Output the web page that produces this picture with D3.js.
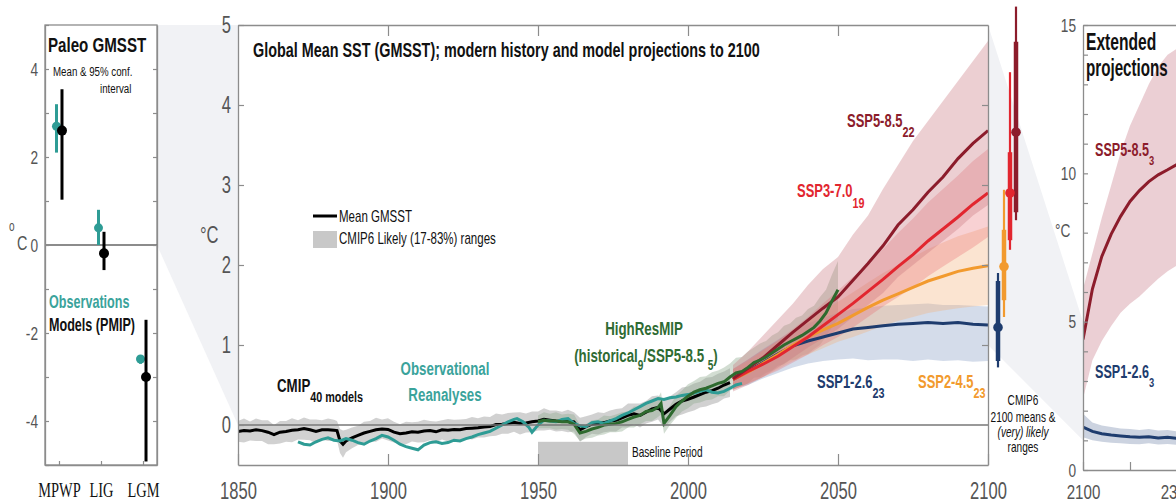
<!DOCTYPE html>
<html>
<head>
<meta charset="utf-8">
<script src="https://cdn.jsdelivr.net/npm/d3@7/dist/d3.min.js"></script>
<style>
  html, body { margin: 0; padding: 0; background: #fff; }
  svg { display: block; }
</style>
</head>
<body>
<svg id="chart" width="1176" height="504"></svg>
<script>
// ---- paleo panel ----
const paleoCats = ["MPWP", "LIG", "LGM"];
const paleoObsMean = [2.7, 0.39, -2.59];
const paleoObsLo = [2.1, 0.0, -2.7];
const paleoObsHi = [3.2, 0.8, -2.5];
const paleoModMean = [2.6, -0.19, -3.0];
const paleoModLo = [1.03, -0.57, -4.92];
const paleoModHi = [3.54, 0.3, -1.7];

// ---- CMIP historical (40 models) ----
const cmipYears = [1850,1852,1854,1856,1858,1860,1862,1864,1866,1868,1870,1872,1874,1876,1878,1880,1882,
  1883,1884,1885,
  1886,1888,1890,1892,1894,1896,1898,1900,1902,1904,
  1906,1908,1910,1912,1914,1916,1918,1920,1922,1924,
  1926,1928,1930,1932,1934,1936,1938,1940,1942,1944,
  1946,1948,1950,1952,1954,1956,1958,1960,1962,1964,
  1966,1968,1970,1972,1974,1976,1978,1980,1982,1984,
  1986,1988,1990,1992,1994,1996,1998,2000,2002,2004,
  2006,2008,2010,2012,2014];
const cmipMean = [-0.08,-0.07,-0.075,-0.06,-0.07,-0.09,-0.12,-0.09,-0.08,-0.065,-0.06,-0.045,-0.06,-0.08,-0.06,-0.06,-0.065,
  -0.07,-0.2,-0.24,
  -0.2,-0.16,-0.13,-0.1,-0.08,-0.06,-0.05,-0.055,-0.09,-0.11,
  -0.1,-0.085,-0.09,-0.075,-0.07,-0.085,-0.06,-0.065,-0.055,-0.06,
  -0.045,-0.04,-0.035,-0.025,-0.02,0.005,0.01,0.02,0.035,0.02,
  0.025,0.04,0.05,0.07,0.06,0.05,0.045,0.05,0.04,-0.06,
  -0.02,0.01,0.02,0.03,0.05,0.06,0.09,0.12,0.14,0.12,
  0.16,0.2,0.22,0.14,0.2,0.26,0.3,0.32,0.35,0.38,
  0.41,0.43,0.46,0.5,0.53];
const cmipSpread = [0.13,0.15,0.12,0.14,0.13,0.15,0.12,0.14,0.13,0.15,0.12,0.14,0.13,0.15,0.12,0.14,0.13,
  0.12,0.15,0.17,
  0.14,0.13,0.12,0.14,0.13,0.15,0.12,0.14,0.13,0.12,
  0.14,0.12,0.13,0.14,0.12,0.13,0.12,0.14,0.12,0.13,
  0.12,0.14,0.12,0.13,0.12,0.14,0.12,0.13,0.12,0.14,
  0.12,0.13,0.12,0.14,0.12,0.13,0.12,0.14,0.12,0.15,
  0.13,0.12,0.14,0.12,0.13,0.14,0.12,0.15,0.13,0.15,
  0.14,0.16,0.15,0.17,0.16,0.15,0.17,0.16,0.17,0.16,
  0.18,0.17,0.18,0.17,0.18];

// ---- observational reanalyses ----
const obsYears = [1870,1872,1874,1876,1878,1880,1882,1884,1886,1888,
  1890,1892,1894,1896,1898,1900,1902,1904,1906,1908,
  1910,1912,1914,1916,1918,1920,1922,1924,1926,1928,
  1930,1932,1934,1936,1938,1940,1942,1943,1945,1947,
  1948,1950,1952,1954,1956,1958,1960,1962,1964,1966,
  1968,1970,1972,1974,1976,1978,1980,1982,1984,1986,
  1988,1990,1992,1994,1996,1998,2000,2002,2004,2006,
  2008,2010,2012,2014,2016,2018];
const obsMean = [-0.21,-0.24,-0.25,-0.21,-0.18,-0.16,-0.19,-0.2,-0.17,-0.19,
  -0.22,-0.24,-0.2,-0.17,-0.13,-0.15,-0.19,-0.24,-0.27,-0.29,
  -0.31,-0.25,-0.22,-0.21,-0.23,-0.22,-0.19,-0.2,-0.17,-0.15,
  -0.12,-0.1,-0.08,-0.04,0.0,0.04,0.07,0.08,0.04,-0.03,
  -0.09,0.0,0.06,0.05,0.04,0.07,0.08,0.02,-0.01,-0.02,
  0.03,0.04,0.02,0.05,0.08,0.12,0.15,0.19,0.23,0.27,
  0.3,0.33,0.32,0.34,0.35,0.37,0.38,0.4,0.42,0.44,
  0.41,0.4,0.42,0.46,0.5,0.52];

// ---- HighResMIP (historical / SSP5-8.5) ----
const hrYears = [1950,1952,1954,1956,1958,1960,1962,1964,1966,1968,
  1970,1972,1974,1976,1978,1980,1982,1984,1986,1988,
  1990,1991,1992,
  1994,1996,1998,2000,2002,2004,2006,
  2008,2010,2012,2014,2016,2018,2020,2022,2024,2026,
  2028,2030,2032,2034,2036,2038,2040,2042,2044,2046,
  2048,2050];
const hrMean = [0.04,0.06,0.05,0.05,0.04,0.04,0.01,-0.1,-0.08,-0.05,
  -0.03,0.0,0.01,0.02,0.04,0.07,0.1,0.12,0.17,0.18,
  0.22,0.27,0.02,
  0.12,0.23,0.3,0.36,0.41,0.44,0.46,
  0.49,0.52,0.54,0.6,0.65,0.67,0.72,0.78,0.81,0.85,
  0.9,0.95,1.0,1.04,1.08,1.12,1.17,1.22,1.3,1.4,
  1.55,1.69];
const hrSpread = [0.08,0.1,0.09,0.11,0.09,0.1,0.12,0.1,0.09,0.11,
  0.1,0.12,0.1,0.11,0.12,0.1,0.13,0.11,0.12,0.13,
  0.12,0.14,0.13,
  0.12,0.14,0.13,0.15,0.14,0.16,0.15,
  0.17,0.16,0.18,0.17,0.19,0.18,0.2,0.19,0.21,0.2,
  0.22,0.21,0.24,0.23,0.26,0.25,0.28,0.27,0.3,0.29,
  0.33,0.36];

// ---- CMIP6 scenario projections ----
const sspYears = [2015,2020,2025,2030,2035,2040,2045,2050,2055,2060,2065,2070,2075,2080,2085,2090,2095,2100];
const ssp126 = [0.57,0.67,0.78,0.89,0.99,1.05,1.1,1.15,1.2,1.22,1.24,1.26,1.27,1.28,1.27,1.28,1.26,1.25];
const ssp126Lo = [0.45,0.5,0.58,0.65,0.72,0.77,0.8,0.82,0.83,0.81,0.82,0.82,0.8,0.82,0.8,0.81,0.79,0.8];
const ssp126Hi = [0.7,0.82,0.95,1.07,1.18,1.27,1.34,1.4,1.45,1.47,1.49,1.5,1.51,1.52,1.5,1.5,1.49,1.48];
const ssp245 = [0.57,0.66,0.77,0.88,1.0,1.1,1.19,1.27,1.37,1.47,1.56,1.64,1.72,1.8,1.86,1.92,1.96,1.99];
const ssp245Lo = [0.44,0.52,0.6,0.7,0.8,0.88,0.96,1.04,1.1,1.17,1.24,1.3,1.35,1.4,1.43,1.46,1.48,1.5];
const ssp245Hi = [0.7,0.8,0.93,1.05,1.18,1.3,1.42,1.54,1.66,1.78,1.9,2.0,2.1,2.2,2.28,2.36,2.42,2.48];
const ssp370 = [0.57,0.67,0.76,0.86,0.98,1.1,1.24,1.38,1.52,1.67,1.82,1.98,2.13,2.3,2.45,2.6,2.76,2.9];
const ssp370Lo = [0.44,0.52,0.6,0.68,0.78,0.88,1.0,1.1,1.22,1.35,1.48,1.6,1.72,1.86,1.98,2.1,2.22,2.35];
const ssp370Hi = [0.7,0.82,0.94,1.06,1.2,1.35,1.52,1.68,1.85,2.02,2.2,2.4,2.58,2.78,2.95,3.12,3.3,3.45];
const ssp585 = [0.58,0.71,0.84,1.0,1.16,1.31,1.46,1.6,1.81,2.02,2.24,2.5,2.69,2.91,3.1,3.33,3.52,3.68];
const ssp585Lo = [0.42,0.5,0.6,0.72,0.84,0.97,1.08,1.2,1.35,1.5,1.65,1.85,2.0,2.15,2.3,2.45,2.62,2.75];
const ssp585Hi = [0.75,0.92,1.12,1.32,1.52,1.75,1.95,2.1,2.38,2.62,2.95,3.25,3.55,3.8,4.05,4.3,4.55,4.8];

// 2100 means, likely and very likely ranges (SSP1-2.6, SSP2-4.5, SSP3-7.0, SSP5-8.5)
const end2100Mean = [1.22, 1.98, 2.9, 3.66];
const end2100LikelyLo = [0.8, 1.56, 2.31, 2.66];
const end2100LikelyHi = [1.8, 2.44, 3.41, 4.79];
const end2100VeryLo = [0.72, 1.35, 2.19, 2.56];
const end2100VeryHi = [1.9, 2.94, 4.41, 5.23];

// ---- extended projections to 2300 ----
const extYears = [2100,2120,2140,2160,2180,2200,2220,2240,2260,2280,2300];
const ext585 = [4.4,6.1,7.2,7.95,8.55,9.05,9.42,9.72,9.95,10.12,10.3];
const ext585Lo = [2.4,3.7,4.35,4.85,5.3,5.6,5.85,6.15,6.45,6.7,6.9];
const ext585Hi = [6.1,7.3,8.5,9.6,10.7,11.6,12.3,13.0,13.6,14.0,14.2];
const ext126 = [1.45,1.3,1.22,1.18,1.15,1.12,1.1,1.12,1.08,1.1,1.07];
const ext126Lo = [1.1,1.0,0.95,0.92,0.9,0.88,0.87,0.9,0.86,0.88,0.85];
const ext126Hi = [1.9,1.6,1.5,1.45,1.4,1.38,1.35,1.38,1.33,1.35,1.3];

// ------------------------------------------------------------------
const FONT = "'Liberation Sans', Arial, sans-serif";
const SX = 0.72; // the figure's type is horizontally condensed
const AXIS = "#8c8c8c", TICKTXT = "#555";
const C = {
  obs: "#2e9c95", hr: "#2d6a2e", s126: "#1e3c6e", s245: "#f29a2e",
  s370: "#e2262f", s585: "#8c1c2b"
};

const svg = d3.select("#chart");

function txt(g, x, y, s, o = {}) {
  return g.append("text")
    .attr("transform", `translate(${x},${y}) scale(${o.sx || SX},1)`)
    .attr("font-family", o.font || FONT)
    .attr("font-size", o.size || 16)
    .attr("font-weight", o.bold ? "bold" : "normal")
    .attr("font-style", o.italic ? "italic" : "normal")
    .attr("fill", o.color || "#111")
    .attr("text-anchor", o.anchor || "start")
    .text(s);
}

// text with subscripts: parts = [[string, isSub], ...]
function subTxt(g, x, y, parts, o = {}) {
  const t = g.append("text")
    .attr("transform", `translate(${x},${y}) scale(${o.sx || SX},1)`)
    .attr("font-family", FONT)
    .attr("font-size", o.size || 17)
    .attr("font-weight", o.bold ? "bold" : "normal")
    .attr("fill", o.color || "#111")
    .attr("text-anchor", o.anchor || "start");
  const sh = o.shift || 9;
  let down = false;
  parts.forEach(([s, sub]) => {
    const ts = t.append("tspan").text(s);
    if (sub && !down) { ts.attr("dy", sh).attr("font-size", o.subSize || 14); down = true; }
    else if (sub) { ts.attr("font-size", o.subSize || 14); }
    else if (down) { ts.attr("dy", -sh); down = false; }
  });
  return t;
}

function styleAxis(g, size, color, font) {
  g.attr("font-family", font || FONT).attr("font-size", size);
  g.selectAll(".domain").attr("stroke", AXIS).attr("stroke-width", 1.3);
  g.selectAll(".tick line").attr("stroke", AXIS).attr("stroke-width", 1.2);
  g.selectAll("text").attr("fill", color || TICKTXT).each(function () {
    const t = d3.select(this);
    const x = +t.attr("x") || 0;
    t.attr("x", x / SX).attr("transform", `scale(${SX},1)`);
  });
}

// ---------------- scales ----------------
const xP = d3.scalePoint().domain(paleoCats).range([45, 157]).padding(0.333);
const yP = d3.scaleLinear().domain([-5, 5]).range([465, 25]);
const xM = d3.scaleLinear().domain([1850, 2100]).range([238, 988]);
const yM = d3.scaleLinear().domain([-0.5, 5]).range([465, 25]);
const xE = d3.scaleLinear().domain([2100, 2300]).range([1083, 1177]);
const yE = d3.scaleLinear().domain([0, 15]).range([470, 25]);

// ---------------- zoom wedges ----------------
const wedge = "#f1f2f5";
svg.append("polygon")
  .attr("points", [[xP.range()[1], yM(5)], [xM(1850), yM(5)], [xM(1850), yM(0)], [xP.range()[1], yP(0)]].join(" "))
  .attr("fill", wedge);
svg.append("polygon")
  .attr("points", [[xM(2100), yM(5)], [xE(2100), yE(5)], [xE(2100), yE(1)], [xM(2100), yM(1)]].join(" "))
  .attr("fill", wedge);

// ================= PALEO PANEL =================
const pg = svg.append("g");
pg.append("rect").attr("x", 45).attr("y", 25).attr("width", 112).attr("height", 440)
  .attr("fill", "#fff").attr("stroke", AXIS).attr("stroke-width", 1.3);
pg.append("line").attr("x1", 45).attr("x2", 157).attr("y1", yP(0)).attr("y2", yP(0))
  .attr("stroke", "#666").attr("stroke-width", 1.4);

const pLeft = pg.append("g").attr("transform", "translate(45,0)")
  .call(d3.axisLeft(yP).tickValues(d3.range(-5, 6)).tickSizeInner(-4).tickSizeOuter(0).tickPadding(7)
    .tickFormat(d => (d % 2 === 0 && Math.abs(d) < 5) ? String(d) : ""));
styleAxis(pLeft, 19);
const pRight = pg.append("g").attr("transform", "translate(157,0)")
  .call(d3.axisRight(yP).tickValues(d3.range(-4, 5)).tickSizeInner(-4).tickSizeOuter(0).tickFormat(""));
styleAxis(pRight, 10);
const pBottom = pg.append("g").attr("transform", "translate(0,465)")
  .call(d3.axisBottom(xP).tickSizeInner(-4).tickSizeOuter(0).tickPadding(18));
styleAxis(pBottom, 20, "#111", "'Liberation Serif', 'Times New Roman', serif");

const paleoRows = paleoCats.map((c, i) => ({
  c, om: paleoObsMean[i], ol: paleoObsLo[i], oh: paleoObsHi[i],
  mm: paleoModMean[i], ml: paleoModLo[i], mh: paleoModHi[i]
}));
pg.selectAll(".obsbar").data(paleoRows).join("line")
  .attr("x1", d => xP(d.c) - 2.5).attr("x2", d => xP(d.c) - 2.5)
  .attr("y1", d => yP(d.ol)).attr("y2", d => yP(d.oh))
  .attr("stroke", C.obs).attr("stroke-width", 3);
pg.selectAll(".obsdot").data(paleoRows).join("circle")
  .attr("cx", d => xP(d.c) - 2.5).attr("cy", d => yP(d.om)).attr("r", 4.5).attr("fill", C.obs);
pg.selectAll(".modbar").data(paleoRows).join("line")
  .attr("x1", d => xP(d.c) + 3).attr("x2", d => xP(d.c) + 3)
  .attr("y1", d => yP(d.ml)).attr("y2", d => yP(d.mh))
  .attr("stroke", "#000").attr("stroke-width", 3);
pg.selectAll(".moddot").data(paleoRows).join("circle")
  .attr("cx", d => xP(d.c) + 3).attr("cy", d => yP(d.mm)).attr("r", 5).attr("fill", "#000");

txt(pg, 48, 52, "Paleo GMSST", { size: 21, bold: true });
txt(pg, 53, 76, "Mean & 95% conf.", { size: 13.5 });
txt(pg, 100, 93, "interval", { size: 13.5 });
txt(pg, 49, 308, "Observations", { size: 17.5, bold: true, color: "#3aa39b" });
txt(pg, 49, 331, "Models (PMIP)", { size: 17.5, bold: true });
txt(pg, 9, 231, "o", { size: 14, color: TICKTXT });
txt(pg, 17, 250, "C", { size: 20, color: TICKTXT });

// ================= MAIN PANEL =================
const mg = svg.append("g");
mg.append("rect").attr("x", 238).attr("y", 25).attr("width", 750).attr("height", 440).attr("fill", "#fff");
mg.append("clipPath").attr("id", "clipM").append("rect")
  .attr("x", 238).attr("y", 25).attr("width", 750).attr("height", 440);

// baseline period box (1950-1980)
mg.append("rect").attr("x", xM(1950)).attr("y", yM(-0.21))
  .attr("width", xM(1980) - xM(1950)).attr("height", yM(-0.5) - yM(-0.21))
  .attr("fill", "#c8c8c8");
txt(mg, 632, 457, "Baseline Period", { size: 14 });

const plot = mg.append("g").attr("clip-path", "url(#clipM)");

const bandM = (years, lo, hi) => d3.area()
  .x((d, i) => xM(years[i])).y0((d, i) => yM(lo[i])).y1((d, i) => yM(hi[i]))(years);
const lineM = (years, vals) => d3.line()
  .x((d, i) => xM(years[i])).y((d, i) => yM(vals[i]))(years);

// bands
plot.append("path").attr("d", bandM(cmipYears, cmipMean.map((v, i) => v - cmipSpread[i]), cmipMean.map((v, i) => v + cmipSpread[i])))
  .attr("fill", "#c9c9c9").attr("opacity", 0.85);
plot.append("path").attr("d", bandM(hrYears, hrMean.map((v, i) => v - hrSpread[i]), hrMean.map((v, i) => v + hrSpread[i])))
  .attr("fill", "#8fa98f").attr("opacity", 0.4);
plot.append("path").attr("d", bandM(sspYears, ssp126Lo, ssp126Hi)).attr("fill", "#8da3c7").attr("opacity", 0.38);
plot.append("path").attr("d", bandM(sspYears, ssp245Lo, ssp245Hi)).attr("fill", "#f4b37a").attr("opacity", 0.35);
plot.append("path").attr("d", bandM(sspYears, ssp370Lo, ssp370Hi)).attr("fill", "#e8666c").attr("opacity", 0.3);
plot.append("path").attr("d", bandM(sspYears, ssp585Lo, ssp585Hi)).attr("fill", "#c9767f").attr("opacity", 0.35);

// zero line
mg.append("line").attr("x1", 238).attr("x2", 988).attr("y1", yM(0)).attr("y2", yM(0))
  .attr("stroke", "#777").attr("stroke-width", 1.3);

// lines
const lw = 3;
plot.append("path").attr("d", lineM(cmipYears, cmipMean)).attr("fill", "none").attr("stroke", "#000").attr("stroke-width", lw);
plot.append("path").attr("d", lineM(obsYears, obsMean)).attr("fill", "none").attr("stroke", C.obs).attr("stroke-width", lw);
plot.append("path").attr("d", lineM(sspYears, ssp126)).attr("fill", "none").attr("stroke", C.s126).attr("stroke-width", lw);
plot.append("path").attr("d", lineM(sspYears, ssp245)).attr("fill", "none").attr("stroke", C.s245).attr("stroke-width", lw);
plot.append("path").attr("d", lineM(sspYears, ssp370)).attr("fill", "none").attr("stroke", C.s370).attr("stroke-width", lw);
plot.append("path").attr("d", lineM(sspYears, ssp585)).attr("fill", "none").attr("stroke", C.s585).attr("stroke-width", lw);
plot.append("path").attr("d", lineM(hrYears, hrMean)).attr("fill", "none").attr("stroke", C.hr).attr("stroke-width", lw);

// axes
const mLeft = mg.append("g").attr("transform", "translate(238,0)")
  .call(d3.axisLeft(yM).tickValues(d3.range(0, 6)).tickSizeInner(-6).tickSizeOuter(0).tickPadding(7)
    .tickFormat(d3.format("d")));
styleAxis(mLeft, 23);
const mRight = mg.append("g").attr("transform", "translate(988,0)")
  .call(d3.axisRight(yM).tickValues([1, 2, 3, 4]).tickSizeInner(-6).tickSizeOuter(0).tickFormat(""));
styleAxis(mRight, 10);
const mTop = mg.append("g").attr("transform", "translate(0,25)")
  .call(d3.axisTop(xM).tickValues([1900, 1950, 2000, 2050]).tickSizeInner(-11).tickSizeOuter(0).tickFormat(""));
styleAxis(mTop, 10);
const mBottom = mg.append("g").attr("transform", "translate(0,465)")
  .call(d3.axisBottom(xM).tickValues(d3.range(1850, 2101, 50)).tickSizeInner(-11).tickSizeOuter(0).tickPadding(18).tickFormat(d3.format("d")));
styleAxis(mBottom, 23);
txt(mg, 200, 243, "°C", { size: 23, color: TICKTXT });

// title + legend
txt(mg, 253, 57, "Global Mean SST (GMSST); modern history and model projections to 2100", { size: 20, bold: true });
mg.append("line").attr("x1", 313).attr("x2", 337).attr("y1", 216).attr("y2", 216).attr("stroke", "#000").attr("stroke-width", 3);
txt(mg, 339, 222, "Mean GMSST", { size: 16 });
mg.append("rect").attr("x", 313).attr("y", 231).attr("width", 24).attr("height", 17).attr("fill", "#c8c8c8");
txt(mg, 339, 244, "CMIP6 Likely (17-83%) ranges", { size: 16 });

// series labels
subTxt(mg, 277, 392, [["CMIP", false], ["40 models", true]], { size: 18.5, subSize: 15, bold: true, shift: 10, color: "#111" });
txt(mg, 445, 375, "Observational", { size: 18.5, bold: true, color: "#3aa39b", anchor: "middle" });
txt(mg, 445, 401, "Reanalyses", { size: 18.5, bold: true, color: "#3aa39b", anchor: "middle" });
txt(mg, 644, 335, "HighResMIP", { size: 18.5, bold: true, color: "#2f6b33", anchor: "middle" });
subTxt(mg, 646, 362, [["(historical", false], ["9", true], ["/SSP5-8.5 ", false], ["5", true], [")", false]],
  { size: 18.5, subSize: 14, bold: true, shift: 8, color: "#2f6b33", anchor: "middle" });
subTxt(mg, 847, 127, [["SSP5-8.5", false], ["22", true]], { size: 18, subSize: 15, bold: true, shift: 10, color: C.s585 });
subTxt(mg, 797, 197, [["SSP3-7.0", false], ["19", true]], { size: 18, subSize: 15, bold: true, shift: 11, color: C.s370 });
subTxt(mg, 817, 388, [["SSP1-2.6", false], ["23", true]], { size: 18, subSize: 15, bold: true, shift: 10, color: C.s126 });
subTxt(mg, 918, 388, [["SSP2-4.5", false], ["23", true]], { size: 18, subSize: 15, bold: true, shift: 10, color: C.s245 });

// 2100 markers
const endColors = [C.s126, C.s245, C.s370, C.s585];
const endRows = end2100Mean.map((m, i) => ({
  m, ll: end2100LikelyLo[i], lh: end2100LikelyHi[i], vl: end2100VeryLo[i], vh: end2100VeryHi[i],
  c: endColors[i], x: xM(2100) + 10 + i * 6
}));
mg.selectAll(".vbar").data(endRows).join("line")
  .attr("x1", d => d.x).attr("x2", d => d.x).attr("y1", d => yM(d.vl)).attr("y2", d => yM(d.vh))
  .attr("stroke", d => d.c).attr("stroke-width", 2.2);
mg.selectAll(".lbar").data(endRows).join("line")
  .attr("x1", d => d.x).attr("x2", d => d.x).attr("y1", d => yM(d.ll)).attr("y2", d => yM(d.lh))
  .attr("stroke", d => d.c).attr("stroke-width", 4.5);
mg.selectAll(".edot").data(endRows).join("circle")
  .attr("cx", d => d.x).attr("cy", d => yM(d.m)).attr("r", 4.8).attr("fill", d => d.c);

txt(mg, 1023, 405, "CMIP6", { size: 14, anchor: "middle" });
txt(mg, 1023, 422, "2100 means &", { size: 14, anchor: "middle" });
txt(mg, 1023, 437, "(very) likely", { size: 14, anchor: "middle", italic: true });
txt(mg, 1023, 452, "ranges", { size: 14, anchor: "middle" });

// ================= EXTENDED PANEL =================
const eg = svg.append("g");
eg.append("rect").attr("x", 1083).attr("y", 25).attr("width", 94).attr("height", 445).attr("fill", "#fff");
eg.append("clipPath").attr("id", "clipE").append("rect")
  .attr("x", 1083).attr("y", 25).attr("width", 94).attr("height", 445);
const ep = eg.append("g").attr("clip-path", "url(#clipE)");
const bandE = (lo, hi) => d3.area()
  .x((d, i) => xE(extYears[i])).y0((d, i) => yE(lo[i])).y1((d, i) => yE(hi[i]))(extYears);
const lineE = vals => d3.line().x((d, i) => xE(extYears[i])).y((d, i) => yE(vals[i]))(extYears);
ep.append("path").attr("d", bandE(ext585Lo, ext585Hi)).attr("fill", "#dba8b0").attr("opacity", 0.55);
ep.append("path").attr("d", bandE(ext126Lo, ext126Hi)).attr("fill", "#aab6cc").attr("opacity", 0.6);
ep.append("path").attr("d", lineE(ext585)).attr("fill", "none").attr("stroke", C.s585).attr("stroke-width", 3);
ep.append("path").attr("d", lineE(ext126)).attr("fill", "none").attr("stroke", C.s126).attr("stroke-width", 3);

const eLeft = eg.append("g").attr("transform", "translate(1083,0)")
  .call(d3.axisLeft(yE).tickValues(d3.range(0, 16)).tickSizeInner(-5).tickSizeOuter(0).tickPadding(7)
    .tickFormat(d => d % 5 === 0 ? String(d) : ""));
styleAxis(eLeft, 19);
const eTop = eg.append("g").attr("transform", "translate(0,25)")
  .call(d3.axisTop(xE).tickValues([]).tickSizeOuter(0));
styleAxis(eTop, 10);
const eBottom = eg.append("g").attr("transform", "translate(0,470)")
  .call(d3.axisBottom(xE).tickValues([2100, 2200, 2300]).tickSizeInner(-8).tickSizeOuter(0).tickPadding(14)
    .tickFormat(d => d === 2200 ? "" : String(d)));
styleAxis(eBottom, 21);
txt(eg, 1055, 237, "°C", { size: 19, color: TICKTXT });

txt(eg, 1086, 50, "Extended", { size: 23, bold: true, sx: 0.68 });
txt(eg, 1086, 76, "projections", { size: 23, bold: true, sx: 0.66 });
subTxt(eg, 1095, 156, [["SSP5-8.5", false], ["3", true]], { size: 17.5, subSize: 13, bold: true, shift: 9, color: C.s585 });
subTxt(eg, 1095, 378, [["SSP1-2.6", false], ["3", true]], { size: 17.5, subSize: 13, bold: true, shift: 9, color: C.s126 });
</script>
</body>
</html>
